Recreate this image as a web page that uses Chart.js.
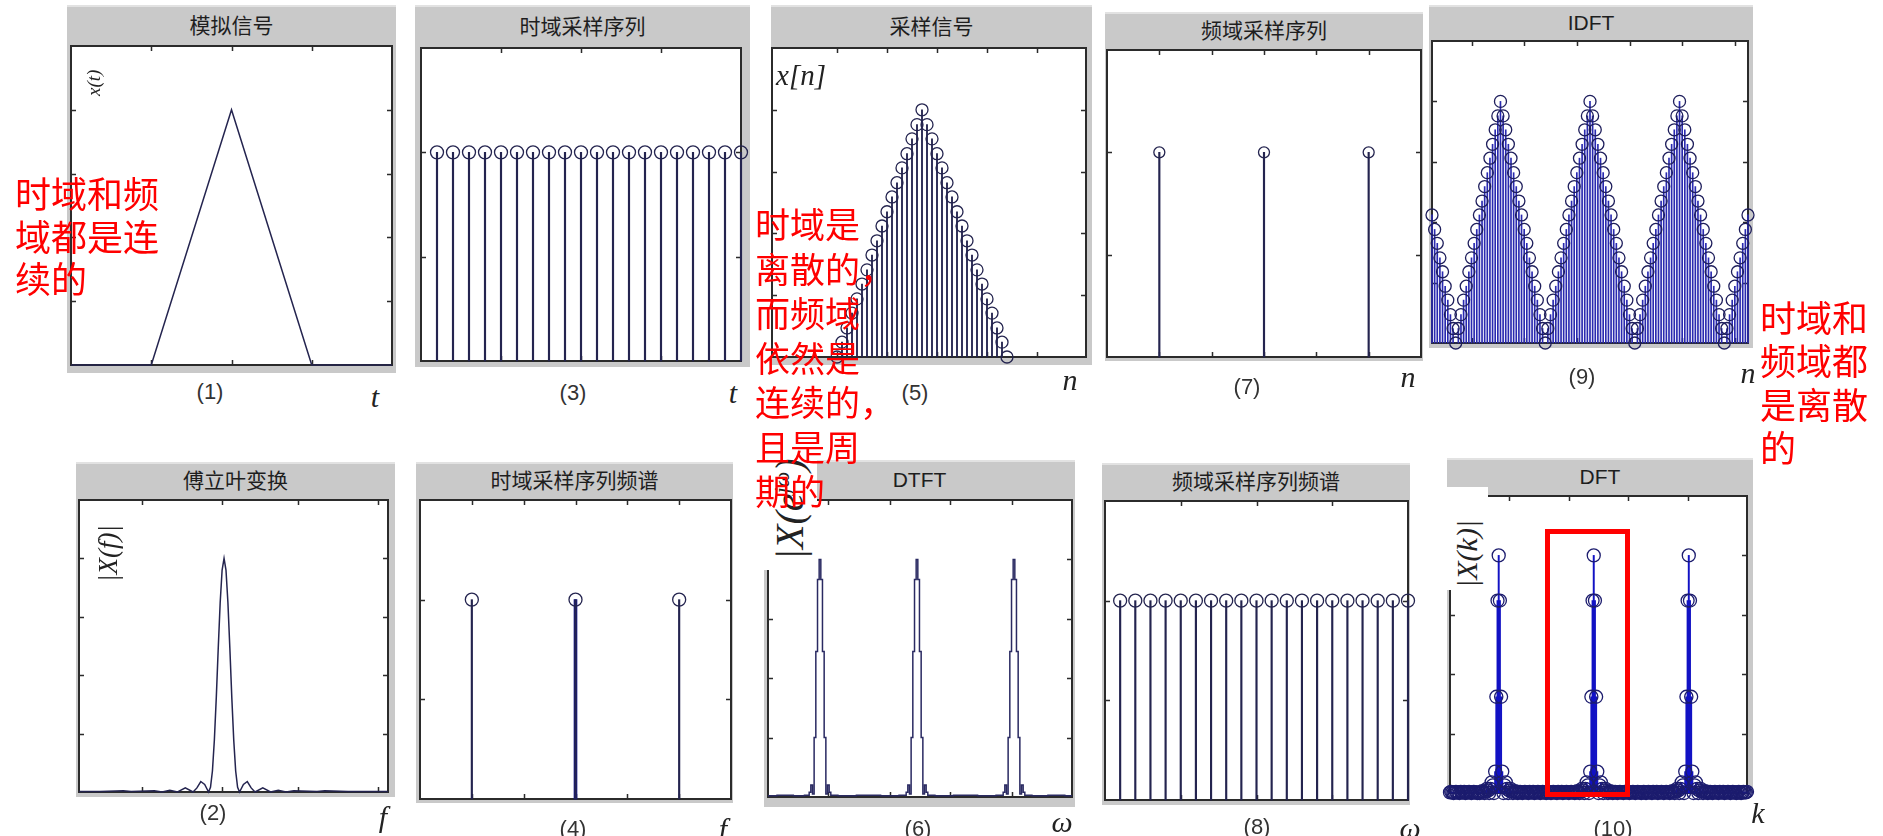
<!DOCTYPE html>
<html>
<head>
<meta charset="utf-8">
<script src="https://cdn.jsdelivr.net/npm/chart.js@4.4.1/dist/chart.umd.min.js"></script>
<style>
  html, body { margin: 0; padding: 0; background: #fff; }
  body { width: 1883px; height: 836px; position: relative; overflow: hidden; font-family: "Liberation Sans", Arial, sans-serif; }
  .frame { position: absolute; background: #c9c9c9; border-top: 2px solid #e2e2e2; box-sizing: border-box; }
  .title { position: absolute; left: 0; right: 0; text-align: center; color: #1e1e1e; font-size: 21px; font-family: "Liberation Sans", "Noto Sans CJK SC", sans-serif; }
  canvas.plot { position: absolute; z-index: 2; }
  .cap { position: absolute; transform: translate(-50%, -50%); font-size: 22px; color: #333; white-space: nowrap; z-index: 3; }
  .var { position: absolute; transform: translate(-50%, -50%); font-family: "Liberation Serif", "DejaVu Serif", serif; font-style: italic; font-size: 30px; color: #222; z-index: 3; }
  .ylab { position: absolute; z-index: 4; font-family: "Liberation Serif", "DejaVu Serif", serif; font-style: italic; color: #222; white-space: nowrap; transform-origin: 0 0; transform: rotate(-90deg); }
  .labbox { position: absolute; background: #fff; overflow: hidden; z-index: 4; }
  .note { position: absolute; color: #f00; font-family: "Noto Sans CJK SC", sans-serif; white-space: pre; z-index: 6; }
  .mark { position: absolute; border: 5px solid #f00; box-sizing: border-box; z-index: 5; }
</style>
</head>
<body>
<script>
// ---- data ----

// (1) analog signal x(t)
const analogT = [0, 1, 2, 3, 4];
const analogX = [0, 0, 4, 0, 0];

// (2) Fourier transform |X(f)|
const ftF = [-4.68, -4, -3.25, -3, -2.25, -2, -1.75, -1.5, -1.25, -1, -0.875, -0.75, -0.625, -0.5,
  -0.4375, -0.375, -0.3125, -0.25, -0.1875, -0.125, -0.0625, 0, 0.0625, 0.125, 0.1875, 0.25, 0.3125,
  0.375, 0.4375, 0.5, 0.625, 0.75, 0.875, 1, 1.25, 1.5, 1.75, 2, 2.25, 3, 3.25, 4, 5.29];
const ftMag = [0.01, 0.01, 0.02, 0.01, 0.02, 0, 0.03, 0, 0.07, 0, 0.07, 0.18, 0.13, 0,
  0.08, 0.36, 0.89, 1.62, 2.46, 3.24, 3.8, 4, 3.8, 3.24, 2.46, 1.62, 0.89,
  0.36, 0.08, 0, 0.13, 0.18, 0.07, 0, 0.07, 0, 0.03, 0, 0.02, 0.01, 0.02, 0.01, 0.01];

// (3) time-domain sampling sequence
const combT = [0.2, 0.4, 0.6, 0.8, 1.0, 1.2, 1.4, 1.6, 1.8, 2.0, 2.2, 2.4, 2.6, 2.8, 3.0, 3.2, 3.4, 3.6, 3.8, 4.0];
const combVal = [2, 2, 2, 2, 2, 2, 2, 2, 2, 2, 2, 2, 2, 2, 2, 2, 2, 2, 2, 2];

// (4) spectrum of the sampling sequence
const combSpecF = [1, 3, 5];
const combSpecVal = [2, 2, 2];

// (5) sampled signal x[n], n = 0..34
const sampX = [0, 0.24, 0.47, 0.71, 0.94, 1.18, 1.41, 1.65, 1.88, 2.12, 2.35, 2.59, 2.82, 3.06, 3.29, 3.53, 3.76, 4,
  3.76, 3.53, 3.29, 3.06, 2.82, 2.59, 2.35, 2.12, 1.88, 1.65, 1.41, 1.18, 0.94, 0.71, 0.47, 0.24, 0];

// (6) DTFT |X(e^jw)|
const dtftW = [-1.536, -1.35, -1.2,
  -1.12, -1.103, -1.086, -1.069, -1.052, -1.034, -1.017, -1, -0.983, -0.966, -0.948, -0.931, -0.914, -0.897, -0.88,
  -0.75, -0.5, -0.25,
  -0.12, -0.103, -0.086, -0.069, -0.052, -0.034, -0.017, 0, 0.017, 0.034, 0.052, 0.069, 0.086, 0.103, 0.12,
  0.25, 0.5, 0.75,
  0.88, 0.897, 0.914, 0.931, 0.948, 0.966, 0.983, 1, 1.017, 1.034, 1.052, 1.069, 1.086, 1.103, 1.12,
  1.25, 1.45, 1.598];
const dtftMag = [0.02, 0.03, 0.02,
  0.03, 0.08, 0.2, 0.05, 1.0, 2.45, 3.66, 4, 3.66, 2.45, 1.0, 0.05, 0.2, 0.08, 0.03,
  0.02, 0.03, 0.02,
  0.03, 0.08, 0.2, 0.05, 1.0, 2.45, 3.66, 4, 3.66, 2.45, 1.0, 0.05, 0.2, 0.08, 0.03,
  0.02, 0.03, 0.02,
  0.03, 0.08, 0.2, 0.05, 1.0, 2.45, 3.66, 4, 3.66, 2.45, 1.0, 0.05, 0.2, 0.08, 0.03,
  0.02, 0.03, 0.02];

// (7) frequency-domain sampling sequence
const freqCombN = [1, 3, 5];
const freqCombVal = [2, 2, 2];

// (8) spectrum of the frequency-domain sampling sequence
const freqSpecT = [1, 2, 3, 4, 5, 6, 7, 8, 9, 10, 11, 12, 13, 14, 15, 16, 17, 18, 19, 20];
const freqSpecVal = [2, 2, 2, 2, 2, 2, 2, 2, 2, 2, 2, 2, 2, 2, 2, 2, 2, 2, 2, 2];

// (9) IDFT, n = 0..120
const idftX = [
  2.12, 1.88, 1.65, 1.41, 1.18, 0.94, 0.71, 0.47, 0.24,
  0, 0.24, 0.47, 0.71, 0.94, 1.18, 1.41, 1.65, 1.88, 2.12, 2.35, 2.59, 2.82, 3.06, 3.29, 3.53, 3.76, 4,
  3.76, 3.53, 3.29, 3.06, 2.82, 2.59, 2.35, 2.12, 1.88, 1.65, 1.41, 1.18, 0.94, 0.71, 0.47, 0.24,
  0, 0.24, 0.47, 0.71, 0.94, 1.18, 1.41, 1.65, 1.88, 2.12, 2.35, 2.59, 2.82, 3.06, 3.29, 3.53, 3.76, 4,
  3.76, 3.53, 3.29, 3.06, 2.82, 2.59, 2.35, 2.12, 1.88, 1.65, 1.41, 1.18, 0.94, 0.71, 0.47, 0.24,
  0, 0.24, 0.47, 0.71, 0.94, 1.18, 1.41, 1.65, 1.88, 2.12, 2.35, 2.59, 2.82, 3.06, 3.29, 3.53, 3.76, 4,
  3.76, 3.53, 3.29, 3.06, 2.82, 2.59, 2.35, 2.12, 1.88, 1.65, 1.41, 1.18, 0.94, 0.71, 0.47, 0.24,
  0, 0.24, 0.47, 0.71, 0.94, 1.18, 1.41, 1.65, 1.88, 2.12];

// (10) DFT |X(k)|, k = 0..250
const dftMag = [
  // k 0..24
  0.01, 0.02, 0.01, 0, 0.01, 0.02, 0.01, 0.01, 0, 0.02, 0.01, 0.01, 0.02, 0, 0.01, 0.01, 0.02, 0.01, 0, 0.01,
  0.02, 0.01, 0.01, 0, 0.01,
  // k 25..57 (peak at 41)
  0, 0.01, 0.03, 0.02, 0, 0.03, 0.07, 0.04, 0, 0.07, 0.18, 0.13, 0, 0.36, 1.62, 3.24, 4, 3.24, 1.62, 0.36,
  0, 0.13, 0.18, 0.07, 0, 0.04, 0.07, 0.03, 0, 0.02, 0.03, 0.01, 0,
  // k 58..104
  0.01, 0.02, 0.01, 0, 0.01, 0.02, 0.01, 0.01, 0, 0.02, 0.01, 0.01, 0.02, 0, 0.01, 0.01, 0.02, 0.01, 0, 0.01,
  0.02, 0.01, 0.01, 0, 0.01, 0.02, 0.01, 0, 0.01, 0.02, 0.01, 0.01, 0, 0.02, 0.01, 0.01, 0.02, 0, 0.01, 0.01,
  0.02, 0.01, 0, 0.01, 0.02, 0.01, 0.01,
  // k 105..137 (peak at 121)
  0, 0.01, 0.03, 0.02, 0, 0.03, 0.07, 0.04, 0, 0.07, 0.18, 0.13, 0, 0.36, 1.62, 3.24, 4, 3.24, 1.62, 0.36,
  0, 0.13, 0.18, 0.07, 0, 0.04, 0.07, 0.03, 0, 0.02, 0.03, 0.01, 0,
  // k 138..184
  0.01, 0.02, 0.01, 0, 0.01, 0.02, 0.01, 0.01, 0, 0.02, 0.01, 0.01, 0.02, 0, 0.01, 0.01, 0.02, 0.01, 0, 0.01,
  0.02, 0.01, 0.01, 0, 0.01, 0.02, 0.01, 0, 0.01, 0.02, 0.01, 0.01, 0, 0.02, 0.01, 0.01, 0.02, 0, 0.01, 0.01,
  0.02, 0.01, 0, 0.01, 0.02, 0.01, 0.01,
  // k 185..217 (peak at 201)
  0, 0.01, 0.03, 0.02, 0, 0.03, 0.07, 0.04, 0, 0.07, 0.18, 0.13, 0, 0.36, 1.62, 3.24, 4, 3.24, 1.62, 0.36,
  0, 0.13, 0.18, 0.07, 0, 0.04, 0.07, 0.03, 0, 0.02, 0.03, 0.01, 0,
  // k 218..250
  0.01, 0.02, 0.01, 0, 0.01, 0.02, 0.01, 0.01, 0, 0.02, 0.01, 0.01, 0.02, 0, 0.01, 0.01, 0.02, 0.01, 0, 0.01,
  0.02, 0.01, 0.01, 0, 0.01, 0.02, 0.01, 0, 0.01, 0.02, 0.01, 0.01, 0.02];

// ---- helpers ----
const PAD = 14;
const NAVY = '#24244f';

const pts = (xs, ys) => xs.map((x, i) => ({ x, y: ys[i] }));
const idx = ys => ys.map((_, k) => k);

function curve(xs, ys, extra) {
  return Object.assign({ type: 'line', data: pts(xs, ys), borderColor: NAVY, borderWidth: 1.5,
    pointRadius: 0, tension: 0, clip: false }, extra || {});
}
function stems(xs, ys, color, width) {
  return { type: 'bar', data: pts(xs, ys), backgroundColor: color, barThickness: width,
    grouped: false, clip: false, order: 2 };
}
function heads(xs, ys, r, color) {
  return { type: 'line', data: pts(xs, ys), showLine: false, pointRadius: r, pointBorderWidth: 1.3,
    pointBorderColor: color || NAVY, pointBackgroundColor: 'rgba(0,0,0,0)', clip: false, order: 1 };
}

// white plot box, border and inward MATLAB-style ticks
const frameTicks = {
  id: 'frameTicks',
  beforeDatasetsDraw(chart, args, opts) {
    const { ctx, chartArea: a, scales } = chart;
    ctx.save();
    ctx.fillStyle = '#fff';
    ctx.fillRect(a.left, a.top, a.width, a.height);
    ctx.strokeStyle = '#2b2b2b';
    ctx.lineWidth = 1.5;
    ctx.beginPath();
    (opts.x || []).forEach(v => {
      const px = Math.round(scales.x.getPixelForValue(v)) + 0.5;
      ctx.moveTo(px, a.top); ctx.lineTo(px, a.top + 5);
      ctx.moveTo(px, a.bottom); ctx.lineTo(px, a.bottom - 5);
    });
    (opts.y || []).forEach(v => {
      const py = Math.round(scales.y.getPixelForValue(v)) + 0.5;
      ctx.moveTo(a.left, py); ctx.lineTo(a.left + 5, py);
      ctx.moveTo(a.right, py); ctx.lineTo(a.right - 5, py);
    });
    ctx.stroke();
    ctx.lineWidth = 2;
    ctx.strokeRect(a.left, a.top, a.width, a.height);
    ctx.restore();
  }
};

function el(cls, html, css) {
  const d = document.createElement('div');
  d.className = cls;
  if (html != null) d.innerHTML = html;
  Object.assign(d.style, css || {});
  document.body.appendChild(d);
  return d;
}

function addPanel(p) {
  const [fx, fy, fw, fh] = p.frame;
  const [px, py, pw, ph] = p.plot;
  const fr = el('frame', null, { left: fx + 'px', top: fy + 'px', width: fw + 'px', height: fh + 'px' });
  const tt = document.createElement('div');
  tt.className = 'title';
  tt.textContent = p.title;
  tt.style.top = '-2px';
  tt.style.height = (py - fy) + 'px';
  tt.style.lineHeight = (py - fy) + 'px';
  fr.appendChild(tt);

  const cv = document.createElement('canvas');
  cv.className = 'plot';
  cv.width = pw + 2 * PAD;
  cv.height = ph + 2 * PAD;
  cv.style.left = (px - PAD) + 'px';
  cv.style.top = (py - PAD) + 'px';
  document.body.appendChild(cv);

  new Chart(cv, {
    type: 'line',
    data: { datasets: p.datasets },
    options: {
      responsive: false,
      animation: false,
      devicePixelRatio: 1,
      events: [],
      layout: { padding: PAD },
      scales: {
        x: { type: 'linear', min: p.xr[0], max: p.xr[1], display: false, offset: false },
        y: { type: 'linear', min: p.yr[0], max: p.yr[1], display: false }
      },
      plugins: {
        legend: { display: false },
        tooltip: { enabled: false },
        frameTicks: { x: p.xt, y: p.yt }
      }
    },
    plugins: [frameTicks]
  });

  el('cap', p.cap, { left: p.capAt[0] + 'px', top: p.capAt[1] + 'px' });
  el('var', p.v, { left: p.vAt[0] + 'px', top: p.vAt[1] + 'px' });
}

// ---- panels ----
const panels = [
  { title: '模拟信号', frame: [67, 5, 329, 368], plot: [71, 46, 321, 319],
    xr: [0, 4], yr: [0, 5], xt: [1, 2, 3], yt: [1, 2, 3, 4],
    datasets: [curve(analogT, analogX)],
    cap: '(1)', capAt: [210, 392], v: 't', vAt: [375, 397] },
  { title: '时域采样序列', frame: [415, 5, 335, 362], plot: [421, 48, 320, 313],
    xr: [0, 4], yr: [0, 3], xt: [1, 2, 3], yt: [1, 2],
    datasets: [stems(combT, combVal, NAVY, 1.5), heads(combT, combVal, 6.5)],
    cap: '(3)', capAt: [573, 393], v: 't', vAt: [733, 393] },
  { title: '采样信号', frame: [771, 5, 321, 360], plot: [772, 48, 314, 309],
    xr: [-13, 49.8], yr: [0, 5], xt: [0, 10, 20, 30, 40], yt: [1, 2, 3, 4],
    datasets: [stems(idx(sampX), sampX, NAVY, 1.2), heads(idx(sampX), sampX, 6)],
    cap: '(5)', capAt: [915, 393], v: 'n', vAt: [1070, 380] },
  { title: '频域采样序列', frame: [1105, 12, 318, 349], plot: [1107, 50, 314, 307],
    xr: [0, 6], yr: [0, 3], xt: [1, 2, 3, 4, 5], yt: [1, 2],
    datasets: [stems(freqCombN, freqCombVal, NAVY, 1.5), heads(freqCombN, freqCombVal, 5.5)],
    cap: '(7)', capAt: [1247, 387], v: 'n', vAt: [1408, 377] },
  { title: 'IDFT', frame: [1429, 5, 324, 343], plot: [1432, 41, 316, 302],
    xr: [0, 120], yr: [0, 5], xt: [15, 35, 55, 75, 95, 115], yt: [1, 2, 3, 4],
    datasets: [stems(idx(idftX), idftX, '#2a2ab0', 1), heads(idx(idftX), idftX, 6, '#1e1e5c')],
    cap: '(9)', capAt: [1582, 377], v: 'n', vAt: [1748, 373] },
  { title: '傅立叶变换', frame: [76, 462, 319, 335], plot: [79, 500, 309, 292],
    xr: [-4.68, 5.29], yr: [0, 5], xt: [-2.65, -0.06, 2.39, 4.97], yt: [1, 2, 3, 4],
    datasets: [curve(ftF, ftMag)],
    cap: '(2)', capAt: [213, 813], v: 'f', vAt: [383, 817] },
  { title: '时域采样序列频谱', frame: [416, 462, 317, 341], plot: [420, 500, 311, 299],
    xr: [0, 6], yr: [0, 3], xt: [1, 2, 3, 4, 5], yt: [1, 2],
    datasets: [stems(combSpecF, combSpecVal, NAVY, 1.5),
      stems([combSpecF[1]], [combSpecVal[1]], '#16168a', 3),
      heads(combSpecF, combSpecVal, 6.5)],
    cap: '(4)', capAt: [573, 829], v: 'f', vAt: [723, 829] },
  { title: 'DTFT', frame: [764, 460, 311, 347], plot: [768, 500, 304, 297],
    xr: [-1.536, 1.598], yr: [0, 5], xt: [-0.918, -0.278, 0.34, 0.979], yt: [1, 2, 3, 4],
    datasets: [curve(dtftW, dtftMag, { stepped: 'middle', borderColor: '#2a2a62' })],
    cap: '(6)', capAt: [918, 829], v: 'ω', vAt: [1062, 822] },
  { title: '频域采样序列频谱', frame: [1102, 463, 308, 342], plot: [1105, 501, 303, 299],
    xr: [0, 20], yr: [0, 3], xt: [5, 10, 15], yt: [1, 2],
    datasets: [stems(freqSpecT, freqSpecVal, NAVY, 1.5), heads(freqSpecT, freqSpecVal, 6.5)],
    cap: '(8)', capAt: [1257, 827], v: 'ω', vAt: [1410, 828] },
  { title: 'DFT', frame: [1447, 458, 306, 335], plot: [1450, 496, 297, 297],
    xr: [0, 250], yr: [0, 5], xt: [50, 100, 150, 200], yt: [1, 2, 3, 4],
    datasets: [stems(idx(dftMag), dftMag, '#1212c4', 1.3), heads(idx(dftMag), dftMag, 6.5, '#1c1c6e')],
    cap: '(10)', capAt: [1613, 829], v: 'k', vAt: [1758, 813] }
];

panels.forEach(addPanel);

// axis names written inside the plots
el('ylab', 'x(t)', { left: '84px', top: '96px', fontSize: '19px', lineHeight: '19px' });
el('ylab', '|X(f)|', { left: '95px', top: '582px', fontSize: '27px', lineHeight: '27px' });
el('var', 'x[<span style="font-style:italic">n</span>]', { left: '801px', top: '75px', fontSize: '29px', transform: 'translate(-50%,-50%)' });

const boxW = el('labbox', null, { left: '757px', top: '455px', width: '60px', height: '115px' });
const labW = document.createElement('div');
labW.className = 'ylab';
labW.innerHTML = '|X(e<sup style="font-size:55%">jω</sup>)|';
Object.assign(labW.style, { left: '5px', top: '105px', fontSize: '40px', lineHeight: '40px' });
boxW.appendChild(labW);

const boxK = el('labbox', null, { left: '1447px', top: '487px', width: '41px', height: '103px' });
const labK = document.createElement('div');
labK.className = 'ylab';
labK.innerHTML = '|X(k)|';
Object.assign(labK.style, { left: '5px', top: '101px', fontSize: '30px', lineHeight: '30px' });
boxK.appendChild(labK);

// red annotations
el('note', '时域和频\n域都是连\n续的', { left: '15px', top: '171px', fontSize: '36px', lineHeight: '42.5px' });
el('note', '时域是\n离散的，\n而频域\n依然是\n连续的，\n且是周\n期的', { left: '755px', top: '201px', fontSize: '35px', lineHeight: '44.5px' });
el('note', '时域和\n频域都\n是离散\n的', { left: '1760px', top: '295px', fontSize: '36px', lineHeight: '43.3px' });

// red highlight box on the middle DFT peak
el('mark', null, { left: '1545px', top: '529px', width: '85px', height: '268px' });
</script>
</body>
</html>
